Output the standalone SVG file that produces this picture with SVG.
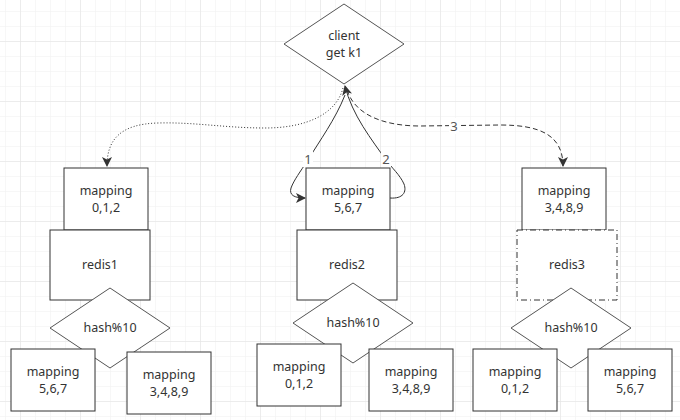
<svg xmlns="http://www.w3.org/2000/svg" width="680" height="420" viewBox="0 0 680 420">
<defs>
<pattern id="minor" patternUnits="userSpaceOnUse" x="5" y="11" width="15" height="15">
<path d="M0,0 V15 M0,0 H15" fill="none" stroke="#efefef" stroke-width="1"/>
</pattern>
<pattern id="major" patternUnits="userSpaceOnUse" x="20" y="41" width="60" height="60">
<path d="M0,0 V60 M0,0 H60" fill="none" stroke="#e2e2e2" stroke-width="1"/>
</pattern>
<marker id="arr" markerWidth="10" markerHeight="10" refX="9" refY="5" orient="auto" markerUnits="userSpaceOnUse">
<path d="M0,0 L10,5 L0,10 L2.5,5 Z" fill="#333"/>
</marker>
</defs>
<style>
.box{fill:#fff;stroke:#333;stroke-width:1}
.dia{fill:#fff;stroke:#555;stroke-width:1}
.t{font-family:"Noto Sans","Open Sans",sans-serif;font-size:12.5px;fill:#333;text-anchor:middle}
.lbl{font-family:"Noto Sans","Open Sans",sans-serif;font-size:13px;fill:#555;text-anchor:middle}
.ln{fill:none;stroke:#333;stroke-width:1}
</style>
<rect width="680" height="420" fill="#fff"/>
<rect width="680" height="420" fill="url(#minor)"/>
<rect width="680" height="420" fill="url(#major)"/>

<g id="connectors">
<path class="ln" d="M343,88 C336,115 305,128 265,128 C225,128 195,122 158,123 C120,124 107,140 107,166" stroke="#666" stroke-dasharray="1 2" marker-end="url(#arr)"/>
<path class="ln" d="M347,90 C356,118 390,126 420,126 L500,125 C540,125 563,135 563,166" stroke="#444" stroke-dasharray="5 3" marker-end="url(#arr)"/>
<path class="ln" d="M345,95 C335,120 320,140 308,160 C300,172 294,180 291,188 C289,195 294,198 305,198" marker-end="url(#arr)"/>
<path class="ln" d="M390,198 C403,199 407,192 404,184 C400,175 392,168 386,160 C372,140 352,115 345,86" marker-end="url(#arr)"/>
<rect x="303" y="151" width="10" height="16" fill="#fff"/>
<text class="lbl" x="308" y="164">1</text>
<rect x="381" y="151" width="10" height="16" fill="#fff"/>
<text class="lbl" x="386" y="164">2</text>
<rect x="449" y="118" width="10" height="16" fill="#fff"/>
<text class="lbl" x="454" y="131">3</text>
</g>

<g id="client">
<path class="dia" d="M344,4 L404,44 L344,84 L284,44 Z"/>
<text class="t" x="344" y="40">client</text>
<text class="t" x="344" y="57">get k1</text>
</g>

<g id="map1-top">
<rect class="box" x="64" y="168" width="84" height="62"/>
<text class="t" x="106" y="195">mapping</text>
<text class="t" x="106" y="212">0,1,2</text>
</g>
<g id="redis1">
<rect class="box" x="50" y="230" width="100" height="70"/>
<text class="t" x="100" y="269">redis1</text>
</g>
<g id="hash1">
<path class="dia" d="M110,288 L170,328 L110,368 L50,328 Z"/>
<text class="t" x="110" y="332">hash%10</text>
</g>
<g id="map1-a">
<rect class="box" x="11" y="349" width="84" height="62"/>
<text class="t" x="53" y="376">mapping</text>
<text class="t" x="53" y="393">5,6,7</text>
</g>
<g id="map1-b">
<rect class="box" x="127" y="352" width="84" height="62"/>
<text class="t" x="169" y="379">mapping</text>
<text class="t" x="169" y="396">3,4,8,9</text>
</g>

<g id="map2-top">
<rect class="box" x="306" y="168" width="84" height="62"/>
<text class="t" x="348" y="195">mapping</text>
<text class="t" x="348" y="212">5,6,7</text>
</g>
<g id="redis2">
<rect class="box" x="297" y="230" width="100" height="70"/>
<text class="t" x="347" y="269">redis2</text>
</g>
<g id="hash2">
<path class="dia" d="M353,283 L413,323 L353,363 L293,323 Z"/>
<text class="t" x="353" y="327">hash%10</text>
</g>
<g id="map2-a">
<rect class="box" x="257" y="344" width="84" height="62"/>
<text class="t" x="299" y="371">mapping</text>
<text class="t" x="299" y="388">0,1,2</text>
</g>
<g id="map2-b">
<rect class="box" x="369" y="349" width="84" height="62"/>
<text class="t" x="411" y="376">mapping</text>
<text class="t" x="411" y="393">3,4,8,9</text>
</g>

<g id="map3-top">
<rect class="box" x="522" y="168" width="84" height="62"/>
<text class="t" x="564" y="195">mapping</text>
<text class="t" x="564" y="212">3,4,8,9</text>
</g>
<g id="redis3">
<rect class="box" x="517" y="230" width="100" height="70" stroke-dasharray="6 3 1 3"/>
<text class="t" x="567" y="269">redis3</text>
</g>
<g id="hash3">
<path class="dia" d="M571,288 L631,328 L571,368 L511,328 Z"/>
<text class="t" x="571" y="332">hash%10</text>
</g>
<g id="map3-a">
<rect class="box" x="473" y="349" width="84" height="62"/>
<text class="t" x="515" y="376">mapping</text>
<text class="t" x="515" y="393">0,1,2</text>
</g>
<g id="map3-b">
<rect class="box" x="588" y="349" width="84" height="62"/>
<text class="t" x="630" y="376">mapping</text>
<text class="t" x="630" y="393">5,6,7</text>
</g>
</svg>
